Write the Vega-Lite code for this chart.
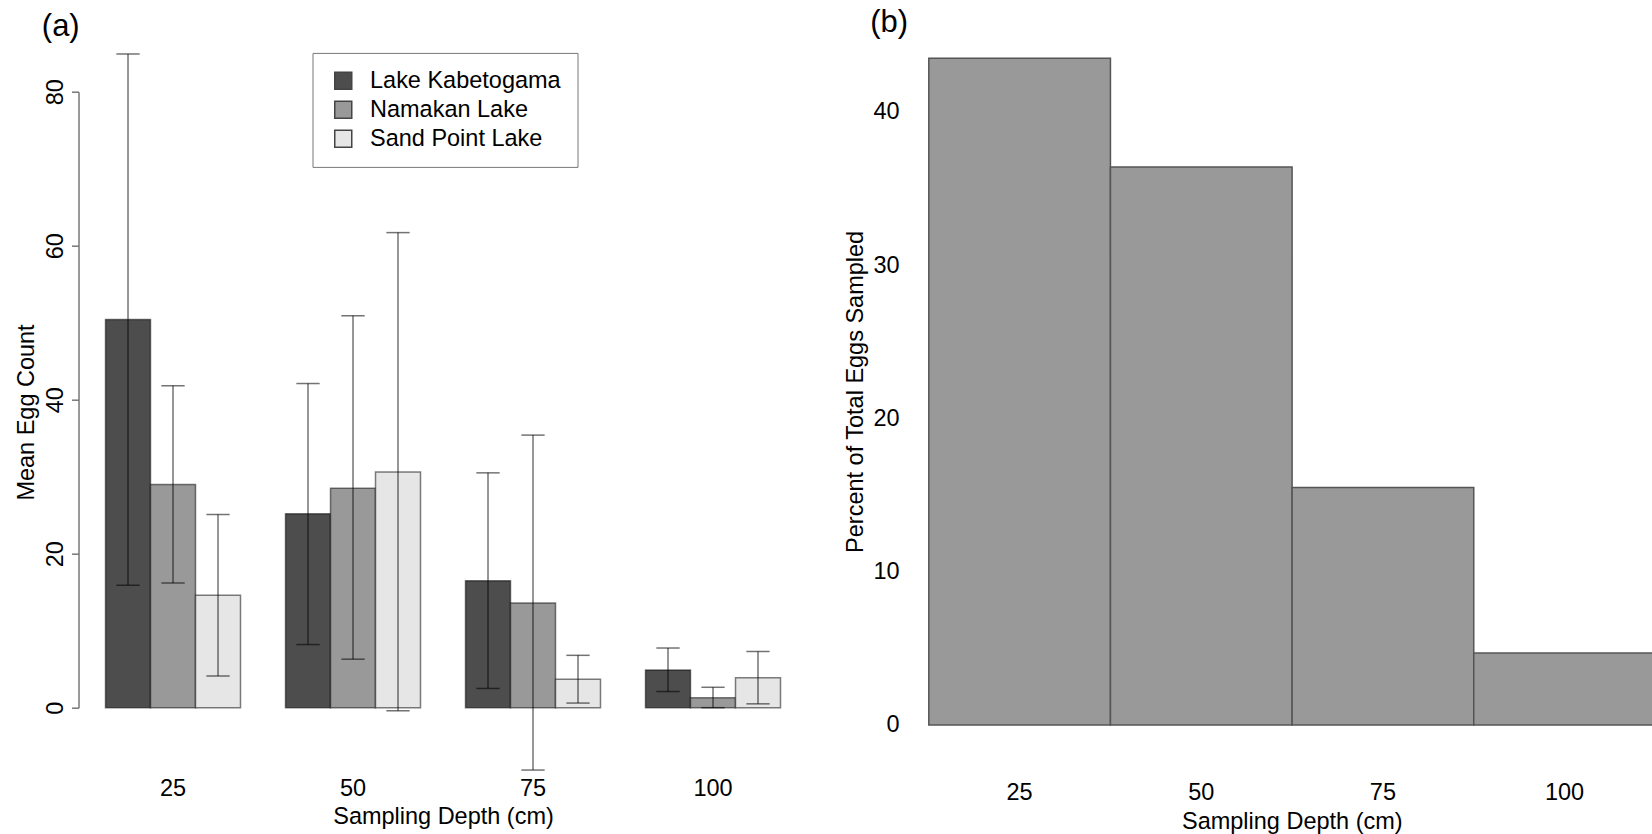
{
  "$schema": "https://vega.github.io/schema/vega-lite/v6.json",
  "background": "white",
  "padding": {"left": 14.5, "top": 6.7, "right": 0, "bottom": 0},
  "config": {
    "font": "Liberation Sans",
    "view": {"stroke": null},
    "axis": {"labelFont": "Liberation Sans", "titleFont": "Liberation Sans", "labelFontSize": 23.5, "titleFontSize": 23.5, "labelColor": "#000", "titleColor": "#000", "titleFontWeight": "normal", "grid": false, "labelOverlap": false},
    "legend": {"labelFont": "Liberation Sans", "labelFontSize": 23.5, "labelColor": "#000", "labelLimit": 400},
    "title": {"font": "Liberation Sans", "fontSize": 31, "fontWeight": "normal", "anchor": "start", "frame": "group", "baseline": "alphabetic", "color": "#000"}
  },
  "datasets": {
    "lakes": [
      {"depth": 25, "lake": "Lake Kabetogama", "mean": 50.4, "lo": 15.9, "hi": 84.9},
      {"depth": 25, "lake": "Namakan Lake", "mean": 29.0, "lo": 16.2, "hi": 41.8},
      {"depth": 25, "lake": "Sand Point Lake", "mean": 14.6, "lo": 4.1, "hi": 25.1},
      {"depth": 50, "lake": "Lake Kabetogama", "mean": 25.2, "lo": 8.2, "hi": 42.1},
      {"depth": 50, "lake": "Namakan Lake", "mean": 28.5, "lo": 6.3, "hi": 50.9},
      {"depth": 50, "lake": "Sand Point Lake", "mean": 30.6, "lo": -0.4, "hi": 61.7},
      {"depth": 75, "lake": "Lake Kabetogama", "mean": 16.5, "lo": 2.5, "hi": 30.5},
      {"depth": 75, "lake": "Namakan Lake", "mean": 13.6, "lo": -8.1, "hi": 35.4},
      {"depth": 75, "lake": "Sand Point Lake", "mean": 3.7, "lo": 0.6, "hi": 6.8},
      {"depth": 100, "lake": "Lake Kabetogama", "mean": 4.9, "lo": 2.1, "hi": 7.75},
      {"depth": 100, "lake": "Namakan Lake", "mean": 1.3, "lo": 0.0, "hi": 2.65},
      {"depth": 100, "lake": "Sand Point Lake", "mean": 3.9, "lo": 0.5, "hi": 7.3}
    ],
    "pct": [
      {"depth": 25, "percent": 43.5},
      {"depth": 50, "percent": 36.4},
      {"depth": 75, "percent": 15.5},
      {"depth": 100, "percent": 4.7}
    ]
  },
  "hconcat": [
    {
      "width": 729,
      "height": 616,
      "title": {"text": "(a)", "dx": -36.7, "offset": 10.6},
      "data": {"name": "lakes"},
      "encoding": {
        "x": {"field": "depth", "type": "ordinal", "scale": {"paddingInner": 0.25, "paddingOuter": 0.15},
          "axis": {"title": "Sampling Depth (cm)", "domain": false, "ticks": false, "tickSize": 0, "labelAngle": 0, "labelBaseline": "alphabetic", "labelPadding": 88.3, "titleX": 364.5, "titleY": 116.3, "titleAlign": "center", "titleBaseline": "alphabetic"}},
        "xOffset": {"field": "lake", "type": "nominal", "sort": ["Lake Kabetogama", "Namakan Lake", "Sand Point Lake"], "scale": {"paddingInner": 0, "paddingOuter": 0}}
      },
      "layer": [
        {
          "mark": {"type": "bar", "stroke": "black", "strokeOpacity": 0.5, "strokeWidth": 1.5},
          "encoding": {
            "y": {"field": "mean", "type": "quantitative", "scale": {"domain": [0, 80], "nice": false, "zero": false},
              "axis": {"title": "Mean Egg Count", "values": [0, 20, 40, 60, 80], "domain": true, "domainColor": "#777", "domainWidth": 1.5, "ticks": true, "tickColor": "#777", "tickWidth": 1.5, "tickSize": 7, "labelAngle": 270, "labelAlign": "center", "labelBaseline": "alphabetic", "labelPadding": 9.3, "titleAngle": 270, "titleAlign": "center", "titleBaseline": "alphabetic", "titleX": -44.7, "titleY": 320.3}},
            "y2": {"datum": 0},
            "color": {"field": "lake", "type": "nominal", "sort": ["Lake Kabetogama", "Namakan Lake", "Sand Point Lake"],
              "scale": {"domain": ["Lake Kabetogama", "Namakan Lake", "Sand Point Lake"], "range": ["#4D4D4D", "#999999", "#E6E6E6"]},
              "legend": {"title": null, "orient": "none", "legendX": 234, "legendY": 21.2, "direction": "vertical", "fillColor": "white", "strokeColor": "#777", "padding": 16, "symbolType": "square", "symbolSize": 289, "symbolOffset": 3, "symbolStrokeColor": "#444", "symbolStrokeWidth": 1.5, "symbolOpacity": 1, "labelOffset": 15, "rowPadding": 4, "labelLimit": 400}}
          }
        },
        {
          "mark": {"type": "rule", "color": "black", "opacity": 0.55, "strokeWidth": 1.5},
          "encoding": {
            "y": {"field": "lo", "type": "quantitative", "scale": {"domain": [0, 80], "nice": false, "zero": false}},
            "y2": {"field": "hi"}
          }
        },
        {
          "mark": {"type": "tick", "color": "black", "opacity": 0.55, "thickness": 1.5, "size": 23.3},
          "encoding": {
            "y": {"field": "hi", "type": "quantitative", "scale": {"domain": [0, 80], "nice": false, "zero": false}}
          }
        },
        {
          "mark": {"type": "tick", "color": "black", "opacity": 0.55, "thickness": 1.5, "size": 23.3},
          "encoding": {
            "y": {"field": "lo", "type": "quantitative", "scale": {"domain": [0, 80], "nice": false, "zero": false}}
          }
        }
      ]
    },
    {
      "width": 753,
      "height": 735.2,
      "title": {"text": "(b)", "dx": -28.9, "offset": -6.9},
      "data": {"name": "pct"},
      "mark": {"type": "bar", "fill": "#999999", "stroke": "#555", "strokeWidth": 1.5, "clip": true},
      "encoding": {
        "x": {"field": "depth", "type": "ordinal", "scale": {"range": [0, 786], "paddingInner": 0, "paddingOuter": 0.1635},
          "axis": {"title": "Sampling Depth (cm)", "domain": false, "ticks": false, "tickSize": 0, "labelAngle": 0, "labelBaseline": "alphabetic", "labelPadding": 32.7, "titleX": 392.7, "titleY": 61.7, "titleAlign": "center", "titleBaseline": "alphabetic"}},
        "y": {"field": "percent", "type": "quantitative", "scale": {"domain": [-2.76, 45.2], "nice": false, "zero": false},
          "axis": {"title": "Percent of Total Eggs Sampled", "values": [0, 10, 20, 30, 40], "domain": false, "ticks": false, "tickSize": 0, "labelAlign": "right", "labelBaseline": "middle", "labelPadding": 0, "titleAngle": 270, "titleAlign": "center", "titleBaseline": "alphabetic", "titleX": -36.9, "titleY": 359.3}},
        "y2": {"datum": 0}
      }
    }
  ],
  "spacing": 91.6,
  "bounds": "flush",
  "center": true
}
